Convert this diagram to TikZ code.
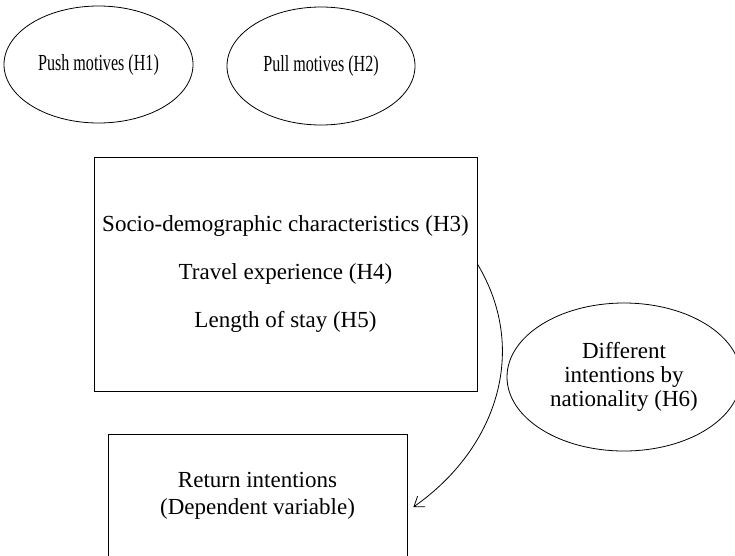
\documentclass[tikz,border=0pt]{standalone}
\usepackage{fontspec}
\setmainfont{Liberation Serif}
\usepackage{tikz}
\usetikzlibrary{shapes.geometric, arrows.meta}

\tikzset{
    oval/.style={draw, ellipse, inner sep=0pt, line width=0.8pt},
    panel/.style={draw, rectangle, inner sep=0pt, line width=0.8pt, align=center},
    arr/.style={-{Straight Barb[length=9pt,width=13pt]}, line width=0.8pt},
}

\begin{document}
\begin{tikzpicture}[x=1pt, y=1pt, font=\fontsize{23}{27.6}\selectfont]
        \useasboundingbox (0,0) rectangle (735,-555);

        \node[oval, minimum width=189pt, minimum height=117pt] (push) at (98.5,-64.5) {\scalebox{0.7}[1]{Push motives (H1)}};
        \node[oval, minimum width=188pt, minimum height=118pt] (pull) at (321,-66) {\scalebox{0.7}[1]{Pull motives (H2)}};

        \node[panel, minimum width=383pt, minimum height=234pt] (socio) at (285.5,-274)
            {Socio-demographic characteristics (H3)\\[20pt] Travel experience (H4)\\[20pt] Length of stay (H5)};

        \node[oval, minimum width=234pt, minimum height=148pt, align=center,
              font=\fontsize{23}{24}\selectfont] (nation) at (624,-377)
            {Different\\ intentions by\\ nationality (H6)};

        \node[panel, minimum width=299pt, minimum height=124pt] (ret) at (257.5,-496)
            {Return intentions\\ (Dependent variable)};

        \path [arr] ([yshift=10pt]socio.east) edge[out=-59, in=35, looseness=1.03] ([xshift=6pt,yshift=-11pt]ret.east);
    \end{tikzpicture}
\end{document}
